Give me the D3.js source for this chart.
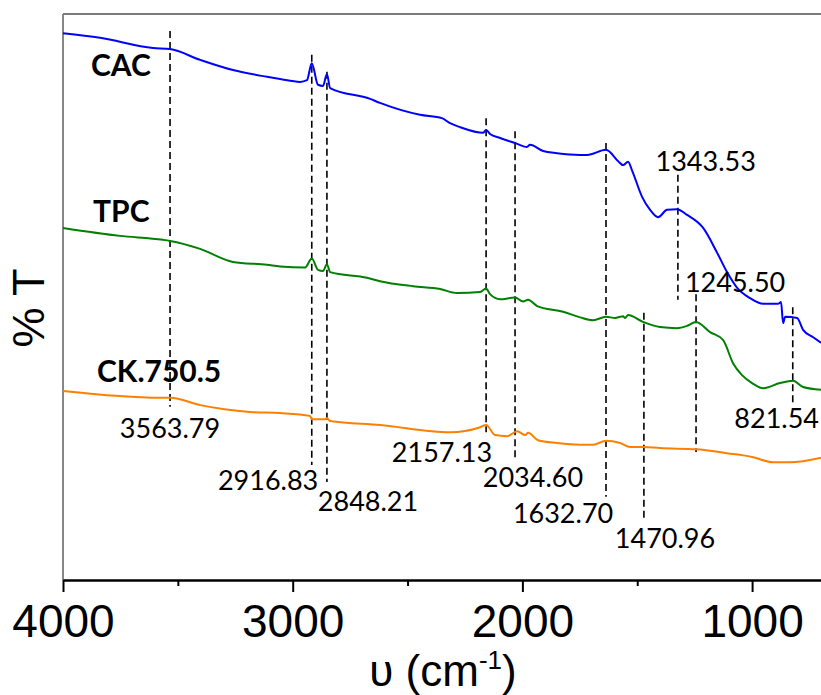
<!DOCTYPE html>
<html>
<head>
<meta charset="utf-8">
<script src="https://cdn.jsdelivr.net/npm/d3@7"></script>
<style>
  html, body { margin: 0; padding: 0; background: #fff; }
  svg { display: block; }
</style>
</head>
<body>
<svg id="chart" width="821" height="695"></svg>
<script>
// ---- data (wavenumber cm^-1, %T in arbitrary units) ----
const cacWave = [4000,3839,3608,3534,3403,3260,3112,3055,2968,2938,2917,2890,2868,2851,2837,2663,2620,2446,2350,2315,2271,2171,2158,2141,2097,2032,1980,1967,1910,1849,1749,1718,1636,1583,1562,1540,1522,1479,1444,1409,1370,1327,1283,1213,1152,1109,1065,1009,952,887,874,865,856,804,778,734,700];
const cacT    = [96.6,95.8,94.0,93.8,91.9,90.1,88.9,88.5,88.0,88.3,91.3,87.5,87.3,89.4,86.9,85.0,84.3,82.2,81.6,80.7,80.0,79.0,79.5,78.8,78.1,77.2,76.5,76.9,75.8,75.4,75.1,75.1,76.0,74.0,73.3,73.9,72.3,67.7,65.4,64.1,65.4,65.5,64.5,62.2,57.8,54.4,51.6,49.8,48.8,48.8,49.1,45.4,46.5,46.3,44.2,42.9,41.9];

const tpcWave = [4000,3752,3565,3534,3403,3260,3112,3055,2946,2917,2890,2868,2851,2837,2676,2620,2476,2358,2285,2184,2158,2141,2097,2032,1997,1975,1936,1823,1749,1692,1636,1596,1575,1562,1553,1540,1475,1401,1327,1283,1244,1183,1126,1083,1044,1000,952,878,822,778,700];
const tpcT    = [62.2,60.8,60.1,59.9,58.5,56.2,55.7,55.4,55.2,56.8,54.8,54.6,55.8,54.4,53.4,52.8,51.9,51.4,50.7,50.9,51.5,50.5,49.6,49.9,49.2,49.5,48.4,47.4,46.4,45.9,46.5,46.3,46.5,46.6,46.3,46.8,45.6,44.7,44.5,44.9,45.6,43.8,42.4,38.3,36.2,34.8,33.9,34.8,35.2,34.1,33.6];

const ckWave = [4000,3578,3534,3403,3186,3055,2925,2916,2859,2851,2837,2620,2315,2184,2158,2119,2067,2023,1988,1975,1932,1849,1749,1692,1636,1575,1531,1475,1401,1244,1109,996,909,835,700];
const ckT    = [33.4,32.2,32.2,30.9,29.7,29.5,29.0,28.4,28.4,28.6,28.1,27.4,26.1,27.0,27.4,25.6,25.4,26.3,25.6,26.0,24.7,24.2,23.9,23.9,24.6,24.2,23.5,23.5,23.3,23.1,22.4,21.7,20.8,20.8,21.6];

const seriesNames  = ["CAC", "TPC", "CK.750.5"];
const seriesColors = ["#0000ff", "#008000", "#ff8000"];
const seriesLabelWave = [3878, 3869, 3852];
const seriesLabelT    = [89.0, 63.3, 35.0];

// dashed guide lines: position, top and bottom (%T units)
const guideWave   = [3534, 2917, 2851, 2158, 2032, 1636, 1323, 1471, 1244, 823];
const guideTop    = [97.0, 92.8, 89.8, 81.6, 79.3, 77.2, 71.6, 47.2, 50.5, 48.2];
const guideBottom = [30.6, 20.3, 17.3, 26.1, 21.6, 14.7, 49.5, 10.6, 22.6, 31.4];

// peak annotations: text, centre wavenumber, baseline %T
const peakText = ["3563.79","2916.83","2848.21","2157.13","2034.60","1632.70","1470.96","821.54","1343.53","1245.50"];
const peakWave = [3534, 3107, 2672, 2350, 1954, 1823, 1379, 893, 1202, 1074];
const peakT    = [25.1, 15.9, 12.2, 20.8, 16.4, 10.1, 5.7, 26.9, 72.3, 50.9];

const majorTicks = [4000, 3000, 2000, 1000];
const minorTicks = [3500, 2500, 1500];

// ---- layout ----
const padL = 63, padR = 821, padT = 14, padB = 580;
const svg = d3.select("#chart");

const x = d3.scaleLinear().domain([4000, 700]).range([padL, padR]);
const y = d3.scaleLinear().domain([0, 100]).range([padB, padT]);

// frame (top + left, grey)
svg.append("line").attr("x1", padL).attr("x2", padR).attr("y1", padT).attr("y2", padT)
  .attr("stroke", "#7a7a7a").attr("stroke-width", 1.8);
svg.append("line").attr("x1", padL).attr("x2", padL).attr("y1", padT).attr("y2", padB)
  .attr("stroke", "#7a7a7a").attr("stroke-width", 1.8);

// guide lines
guideWave.forEach((w, i) => {
  svg.append("line")
    .attr("x1", x(w)).attr("x2", x(w))
    .attr("y1", y(guideTop[i])).attr("y2", y(guideBottom[i]))
    .attr("stroke", "#000").attr("stroke-width", 1.6)
    .attr("stroke-dasharray", "7,4");
});

// series
const line = d3.line().x(d => x(d[0])).y(d => y(d[1])).curve(d3.curveMonotoneX);
const allSeries = [
  d3.zip(cacWave, cacT),
  d3.zip(tpcWave, tpcT),
  d3.zip(ckWave, ckT)
];
allSeries.forEach((s, i) => {
  svg.append("path").datum(s)
    .attr("d", line)
    .attr("fill", "none")
    .attr("stroke", seriesColors[i])
    .attr("stroke-width", 2)
    .attr("stroke-linejoin", "round");
});

// series labels
seriesNames.forEach((n, i) => {
  svg.append("text")
    .attr("x", x(seriesLabelWave[i])).attr("y", y(seriesLabelT[i]))
    .attr("font-family", "Lato, 'Open Sans', sans-serif")
    .attr("font-weight", "bold")
    .attr("font-size", 30)
    .attr("fill", "#000")
    .text(n);
});

// peak labels
peakText.forEach((t, i) => {
  svg.append("text")
    .attr("x", x(peakWave[i])).attr("y", y(peakT[i]))
    .attr("text-anchor", "middle")
    .attr("font-family", "Lato, 'Open Sans', sans-serif")
    .attr("font-size", 27)
    .attr("fill", "#000")
    .text(t);
});

// x axis
const xAxis = svg.append("g").attr("transform", `translate(0,${padB})`)
  .call(d3.axisBottom(x).tickValues(majorTicks).tickSize(12).tickSizeOuter(0).tickFormat(d3.format("d")));
xAxis.select(".domain").attr("stroke", "#000").attr("stroke-width", 2.5);
xAxis.selectAll(".tick line").attr("stroke", "#000").attr("stroke-width", 2);
xAxis.selectAll(".tick text")
  .attr("y", 57).attr("dy", 0)
  .attr("font-family", "'Liberation Sans', Arial, sans-serif")
  .attr("font-size", 46)
  .attr("fill", "#000");

const xMinor = svg.append("g").attr("transform", `translate(0,${padB})`)
  .call(d3.axisBottom(x).tickValues(minorTicks).tickSize(6).tickSizeOuter(0).tickFormat(""));
xMinor.select(".domain").remove();
xMinor.selectAll(".tick line").attr("stroke", "#000").attr("stroke-width", 2);

// x title
const xt = svg.append("text")
  .attr("x", (padL + padR) / 2 + 1).attr("y", 686)
  .attr("text-anchor", "middle")
  .attr("font-family", "'Liberation Sans', Arial, sans-serif")
  .attr("font-size", 44)
  .attr("fill", "#000");
xt.append("tspan").text("υ (cm");
xt.append("tspan").attr("font-size", 26).attr("dy", -17).text("-1");
xt.append("tspan").attr("dy", 17).text(")");

// y title
svg.append("text")
  .attr("transform", "translate(44,308) rotate(-90)")
  .attr("text-anchor", "middle")
  .attr("font-family", "'Liberation Sans', Arial, sans-serif")
  .attr("font-size", 45)
  .attr("fill", "#000")
  .text("% T");
</script>
</body>
</html>
